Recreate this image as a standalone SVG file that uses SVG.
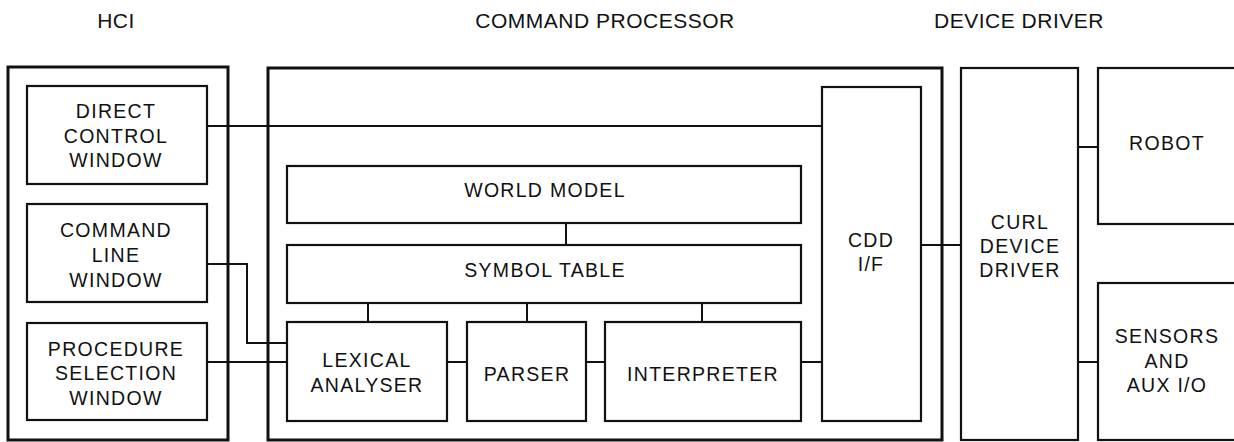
<svg xmlns="http://www.w3.org/2000/svg" width="1234" height="442" viewBox="0 0 1234 442">
<style>
.outer{fill:none;stroke:#111;stroke-width:3}
.box{fill:#fff;stroke:#111;stroke-width:2.2}
.ln{fill:none;stroke:#111;stroke-width:2}
.hd{font-family:"Liberation Sans",Arial,sans-serif;font-size:21px;fill:#111;text-anchor:middle;letter-spacing:0.5px}
.t{font-family:"Liberation Sans",Arial,sans-serif;font-size:19.5px;fill:#111;text-anchor:middle;letter-spacing:1.3px}
</style>
<rect width="1234" height="442" fill="#fff"/>
<g id="headers">
<text class="hd" x="116" y="28">HCI</text>
<text class="hd" x="605" y="28">COMMAND PROCESSOR</text>
<text class="hd" x="1019" y="28">DEVICE DRIVER</text>
</g>
<g id="hci"><rect class="outer" x="8" y="67" width="220" height="373"/></g>
<g id="command-processor"><rect class="outer" x="268" y="68" width="674" height="372"/></g>
<g id="connectors">
<polyline class="ln" points="207,126 822,126"/>
<polyline class="ln" points="207,264 247,264 247,343 287,343"/>
<polyline class="ln" points="207,362 287,362"/>
<polyline class="ln" points="566,223 566,245"/>
<polyline class="ln" points="368,303 368,322"/>
<polyline class="ln" points="527,303 527,322"/>
<polyline class="ln" points="702,303 702,322"/>
<polyline class="ln" points="447,362 467,362"/>
<polyline class="ln" points="586,362 605,362"/>
<polyline class="ln" points="801,362 822,362"/>
<polyline class="ln" points="921,245 961,245"/>
<polyline class="ln" points="1078,147 1098,147"/>
<polyline class="ln" points="1078,362 1098,362"/>
</g>
<g id="direct-control-window"><rect class="box" x="27" y="86" width="180" height="98"/>
<text class="t" x="116" y="118">DIRECT</text><text class="t" x="116" y="143">CONTROL</text><text class="t" x="116" y="167">WINDOW</text></g>
<g id="command-line-window"><rect class="box" x="27" y="204" width="180" height="98"/>
<text class="t" x="116" y="237">COMMAND</text><text class="t" x="116" y="262">LINE</text><text class="t" x="116" y="287">WINDOW</text></g>
<g id="procedure-selection-window"><rect class="box" x="27" y="323" width="180" height="97"/>
<text class="t" x="116" y="356">PROCEDURE</text><text class="t" x="116" y="380">SELECTION</text><text class="t" x="116" y="405">WINDOW</text></g>
<g id="world-model"><rect class="box" x="287" y="166" width="514" height="57"/>
<text class="t" x="545" y="197">WORLD MODEL</text></g>
<g id="symbol-table"><rect class="box" x="287" y="245" width="514" height="58"/>
<text class="t" x="545" y="277">SYMBOL TABLE</text></g>
<g id="lexical-analyser"><rect class="box" x="287" y="322" width="160" height="99"/>
<text class="t" x="367" y="367">LEXICAL</text><text class="t" x="367" y="392">ANALYSER</text></g>
<g id="parser"><rect class="box" x="467" y="322" width="119" height="99"/>
<text class="t" x="527" y="381">PARSER</text></g>
<g id="interpreter"><rect class="box" x="605" y="322" width="196" height="99"/>
<text class="t" x="703" y="381">INTERPRETER</text></g>
<g id="cdd-if"><rect class="box" x="822" y="87" width="99" height="334"/>
<text class="t" x="871" y="247">CDD</text><text class="t" x="871" y="271">I/F</text></g>
<g id="curl-device-driver"><rect class="box" x="961" y="68" width="117" height="372"/>
<text class="t" x="1020" y="229">CURL</text><text class="t" x="1020" y="253">DEVICE</text><text class="t" x="1020" y="277">DRIVER</text></g>
<g id="robot"><rect class="box" x="1098" y="68" width="145" height="156"/>
<text class="t" x="1167" y="150">ROBOT</text></g>
<g id="sensors"><rect class="box" x="1098" y="283" width="145" height="157"/>
<text class="t" x="1167" y="343">SENSORS</text><text class="t" x="1167" y="368">AND</text><text class="t" x="1167" y="392">AUX I/O</text></g>
</svg>
